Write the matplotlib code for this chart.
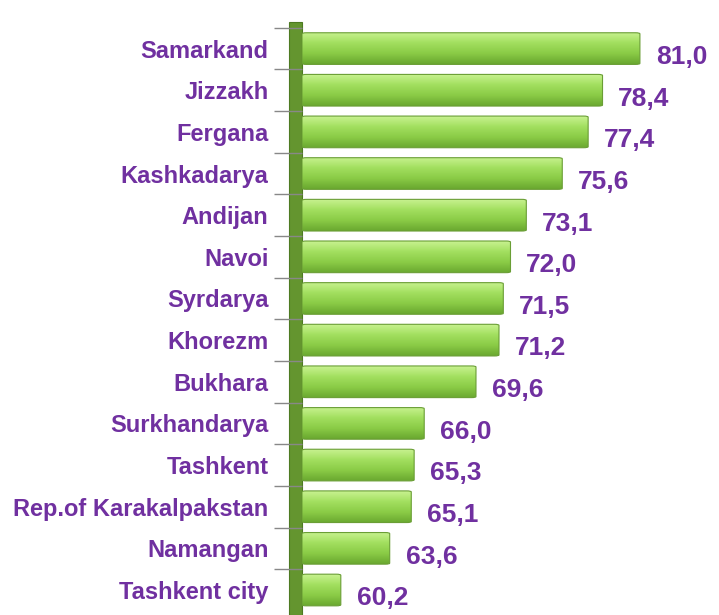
import matplotlib.pyplot as plt
import numpy as np
from matplotlib.patches import FancyBboxPatch, Rectangle
from matplotlib.colors import LinearSegmentedColormap

regions = ["Samarkand", "Jizzakh", "Fergana", "Kashkadarya", "Andijan", "Navoi",
           "Syrdarya", "Khorezm", "Bukhara", "Surkhandarya", "Tashkent",
           "Rep.of Karakalpakstan", "Namangan", "Tashkent city"]
values = [81.0, 78.4, 77.4, 75.6, 73.1, 72.0, 71.5, 71.2, 69.6, 66.0, 65.3, 65.1, 63.6, 60.2]

fam = "Liberation Sans"
purple = "#7030A0"

fig = plt.figure(figsize=(7.19, 6.15), dpi=100)
ax = fig.add_axes([0.42, 0.0, 0.50, 0.965])

base = 57.5
ax.set_xlim(base, 82.5)
ax.set_ylim(13.6, -0.65)

# vertical gradient for the bars (light top, darker bottom)
grad = np.linspace(0, 1, 64).reshape(-1, 1)
cmap = LinearSegmentedColormap.from_list(
    "g", ["#c8f290", "#a2df5f", "#8acb46", "#6aa830"])

h = 0.76
for i, v in enumerate(values):
    patch = FancyBboxPatch((base, i - h / 2), v - base, h,
                           boxstyle="round,pad=0,rounding_size=0.3",
                           mutation_aspect=1 / 12,
                           facecolor="none", edgecolor="#6a9e35", lw=0.8, zorder=3)
    ax.add_patch(patch)
    im = ax.imshow(grad, cmap=cmap, aspect="auto",
                   extent=(base, v, i + h / 2, i - h / 2), zorder=2)
    im.set_clip_path(patch)
    ax.text(v + 1.1, i + 0.2, f"{v:.1f}".replace(".", ","), color=purple,
            fontsize=19, fontweight="bold", family=fam, va="center", ha="left")

# green wall on the left
ax.add_patch(Rectangle((base - 0.9, -0.65), 0.9, 14.25, facecolor="#64952f",
                       edgecolor="#4d7a22", lw=0.8, clip_on=False, zorder=1))

ax.set_yticks(range(len(regions)))
ax.set_yticklabels(regions, color=purple, fontsize=17, fontweight="bold", family=fam)
ax.set_yticks(np.arange(-0.5, len(regions) - 1), minor=True)
ax.tick_params(axis="y", which="major", length=0, pad=24)
ax.tick_params(axis="y", which="minor", length=20, width=1, color="#888888")
ax.set_xticks([])
for s in ax.spines.values():
    s.set_visible(False)

fig.savefig("out.png", dpi=100)
